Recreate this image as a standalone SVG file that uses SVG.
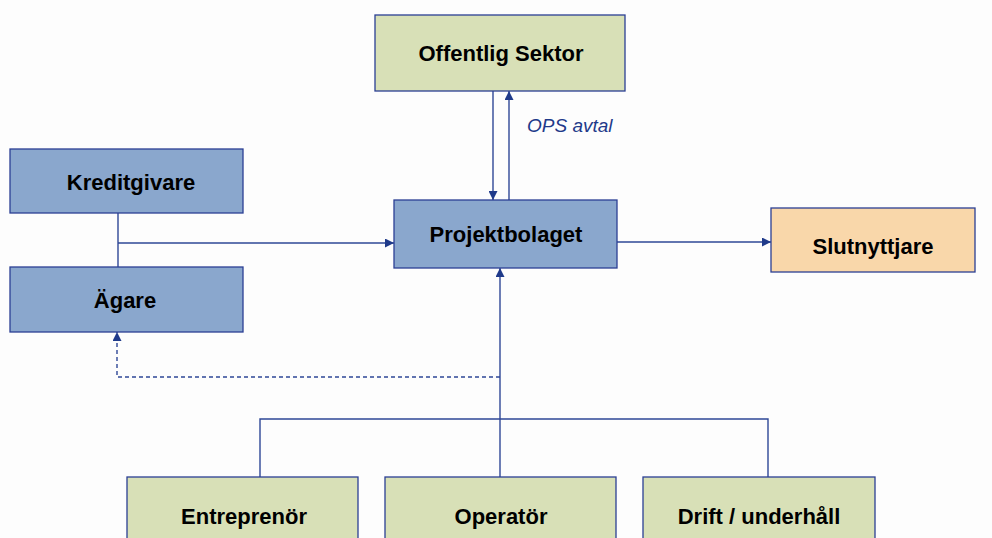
<svg xmlns="http://www.w3.org/2000/svg" width="992" height="538" viewBox="0 0 992 538">
<style>
.box{stroke:#2b3f94;stroke-width:1.3}
.g{fill:#d8e0b7}
.b{fill:#8aa7cd}
.o{fill:#f9d7aa}
.t{font-family:"Liberation Sans",Arial,sans-serif;font-weight:bold;font-size:22px;fill:#000;text-anchor:middle}
.c{fill:none;stroke:#2e4796;stroke-width:1.4}
.d{stroke-dasharray:4,3}
.lbl{font-family:"Liberation Sans",Arial,sans-serif;font-style:italic;font-size:19px;fill:#1f3a8a}
</style>
<defs>
<marker id="ah" viewBox="0 0 10 10" refX="10" refY="5" markerWidth="9" markerHeight="9" markerUnits="userSpaceOnUse" orient="auto">
<path d="M0,0 L10,5 L0,10 z" fill="#1f3a8a"/>
</marker>
</defs>
<rect width="992" height="538" fill="#fdfdfd"/>
<g id="connectors">
<path class="c" d="M493,91 V200" marker-end="url(#ah)"/>
<path class="c" d="M509,200 V91" marker-end="url(#ah)"/>
<path class="c" d="M118,213 V267"/>
<path class="c" d="M118,243 H394" marker-end="url(#ah)"/>
<path class="c" d="M617,242 H771" marker-end="url(#ah)"/>
<path class="c" d="M500,477 V268" marker-end="url(#ah)"/>
<path class="c d" d="M500,377 H117 V332" marker-end="url(#ah)"/>
<path class="c" d="M260,477 V419 H768 V477"/>
<text class="lbl" x="527" y="132">OPS avtal</text>
</g>
<g id="offentlig"><rect class="box g" x="375" y="15" width="250" height="76"/><text class="t" x="501" y="61">Offentlig Sektor</text></g>
<g id="kreditgivare"><rect class="box b" x="10" y="149" width="233" height="64"/><text class="t" x="131" y="190">Kreditgivare</text></g>
<g id="agare"><rect class="box b" x="10" y="267" width="233" height="65"/><text class="t" x="125" y="308">Ägare</text></g>
<g id="projektbolaget"><rect class="box b" x="394" y="200" width="223" height="68"/><text class="t" x="506" y="242">Projektbolaget</text></g>
<g id="slutnyttjare"><rect class="box o" x="771" y="208" width="204" height="64"/><text class="t" x="873" y="254">Slutnyttjare</text></g>
<g id="entreprenor"><rect class="box g" x="127" y="477" width="231" height="70"/><text class="t" x="244" y="524">Entreprenör</text></g>
<g id="operator"><rect class="box g" x="385" y="477" width="231" height="70"/><text class="t" x="501" y="524">Operatör</text></g>
<g id="drift"><rect class="box g" x="643" y="477" width="232" height="70"/><text class="t" x="759" y="524">Drift / underhåll</text></g>
</svg>
